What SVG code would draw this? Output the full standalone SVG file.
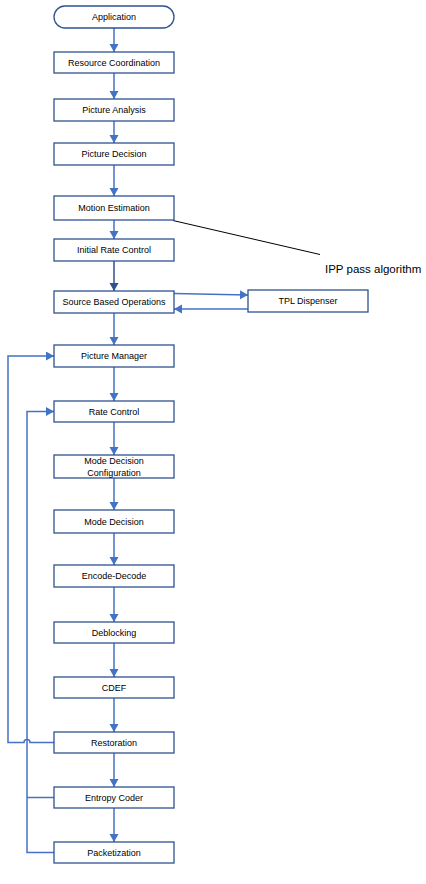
<svg xmlns="http://www.w3.org/2000/svg" width="426" height="884" viewBox="0 0 426 884">
<style>
.box{fill:#fff;stroke:#2F528F;stroke-width:1.3}
.t{font-family:"Liberation Sans",Arial,sans-serif;font-size:9px;fill:#000;text-anchor:middle;dominant-baseline:central}
.c{fill:none;stroke:#4472C4;stroke-width:1.5}
.cd{fill:none;stroke:#2F528F;stroke-width:1.5}
</style>
<defs>
<marker id="a" markerUnits="userSpaceOnUse" markerWidth="10" markerHeight="10" refX="8" refY="4.5" orient="auto"><path d="M0,0 L8,4.5 L0,9 z" fill="#4472C4"/></marker>
<marker id="ad" markerUnits="userSpaceOnUse" markerWidth="10" markerHeight="10" refX="8" refY="4.5" orient="auto"><path d="M0,0 L8,4.5 L0,9 z" fill="#2F528F"/></marker>
</defs>
<g id="connectors">
<path class="c" d="M114,28 V52" marker-end="url(#a)"/>
<path class="c" d="M114,73 V99" marker-end="url(#a)"/>
<path class="c" d="M114,121 V143" marker-end="url(#a)"/>
<path class="c" d="M114,165 V196" marker-end="url(#a)"/>
<path class="c" d="M114,220 V239" marker-end="url(#a)"/>
<path class="cd" d="M114,261 V291" marker-end="url(#ad)"/>
<path class="c" d="M114,313 V345" marker-end="url(#a)"/>
<path class="c" d="M114,367 V401" marker-end="url(#a)"/>
<path class="c" d="M114,422 V455" marker-end="url(#a)"/>
<path class="c" d="M114,478 V510" marker-end="url(#a)"/>
<path class="c" d="M114,533 V565" marker-end="url(#a)"/>
<path class="c" d="M114,587 V622" marker-end="url(#a)"/>
<path class="c" d="M114,643 V677" marker-end="url(#a)"/>
<path class="c" d="M114,698 V732" marker-end="url(#a)"/>
<path class="c" d="M114,753 V787" marker-end="url(#a)"/>
<path class="c" d="M114,808 V842" marker-end="url(#a)"/>
<path class="c" d="M174,293.5 L248,295" marker-end="url(#a)"/>
<path class="c" d="M248,309 L174,309" marker-end="url(#a)"/>
<path class="c" d="M54,742.5 H30 A3,3 0 0 0 24,742.5 H8 V356 H54" marker-end="url(#a)"/>
<path class="c" d="M54,852.5 H27 V411.5 H54" marker-end="url(#a)"/>
<path class="c" d="M54,797.5 H27"/>
<path fill="none" stroke="#000" stroke-width="1" d="M173,220.5 L320,254.5"/>
</g>
<g id="app"><rect class="box" x="54" y="6" width="120" height="22" rx="11"/><text class="t" x="114" y="17">Application</text></g>
<g id="resource-coordination"><rect class="box" x="54" y="52" width="120" height="21"/><text class="t" x="114" y="62.5">Resource Coordination</text></g>
<g id="picture-analysis"><rect class="box" x="54" y="99" width="120" height="22"/><text class="t" x="114" y="110">Picture Analysis</text></g>
<g id="picture-decision"><rect class="box" x="54" y="143" width="120" height="22"/><text class="t" x="114" y="154">Picture Decision</text></g>
<g id="motion-estimation"><rect class="box" x="54" y="196" width="120" height="24"/><text class="t" x="114" y="208">Motion Estimation</text></g>
<g id="initial-rate-control"><rect class="box" x="54" y="239" width="120" height="22"/><text class="t" x="114" y="250">Initial Rate Control</text></g>
<g id="source-based-operations"><rect class="box" x="54" y="291" width="120" height="22"/><text class="t" x="114" y="302">Source Based Operations</text></g>
<g id="tpl-dispenser"><rect class="box" x="248" y="290" width="120" height="22"/><text class="t" x="308" y="301">TPL Dispenser</text></g>
<g id="picture-manager"><rect class="box" x="54" y="345" width="120" height="22"/><text class="t" x="114" y="356">Picture Manager</text></g>
<g id="rate-control"><rect class="box" x="54" y="401" width="120" height="21"/><text class="t" x="114" y="411.5">Rate Control</text></g>
<g id="mode-decision-configuration"><rect class="box" x="54" y="455" width="120" height="23"/><text class="t" x="114" y="461">Mode Decision</text><text class="t" x="114" y="473">Configuration</text></g>
<g id="mode-decision"><rect class="box" x="54" y="510" width="120" height="23"/><text class="t" x="114" y="521.5">Mode Decision</text></g>
<g id="encode-decode"><rect class="box" x="54" y="565" width="120" height="22"/><text class="t" x="114" y="576">Encode-Decode</text></g>
<g id="deblocking"><rect class="box" x="54" y="622" width="120" height="21"/><text class="t" x="114" y="632.5">Deblocking</text></g>
<g id="cdef"><rect class="box" x="54" y="677" width="120" height="21"/><text class="t" x="114" y="687.5">CDEF</text></g>
<g id="restoration"><rect class="box" x="54" y="732" width="120" height="21"/><text class="t" x="114" y="742.5">Restoration</text></g>
<g id="entropy-coder"><rect class="box" x="54" y="787" width="120" height="21"/><text class="t" x="114" y="797.5">Entropy Coder</text></g>
<g id="packetization"><rect class="box" x="54" y="842" width="120" height="21"/><text class="t" x="114" y="852.5">Packetization</text></g>
<g id="ipp-label"><text x="325" y="273" font-family="'Liberation Sans',Arial,sans-serif" font-size="11.5px" fill="#000">IPP pass algorithm</text></g>
</svg>
